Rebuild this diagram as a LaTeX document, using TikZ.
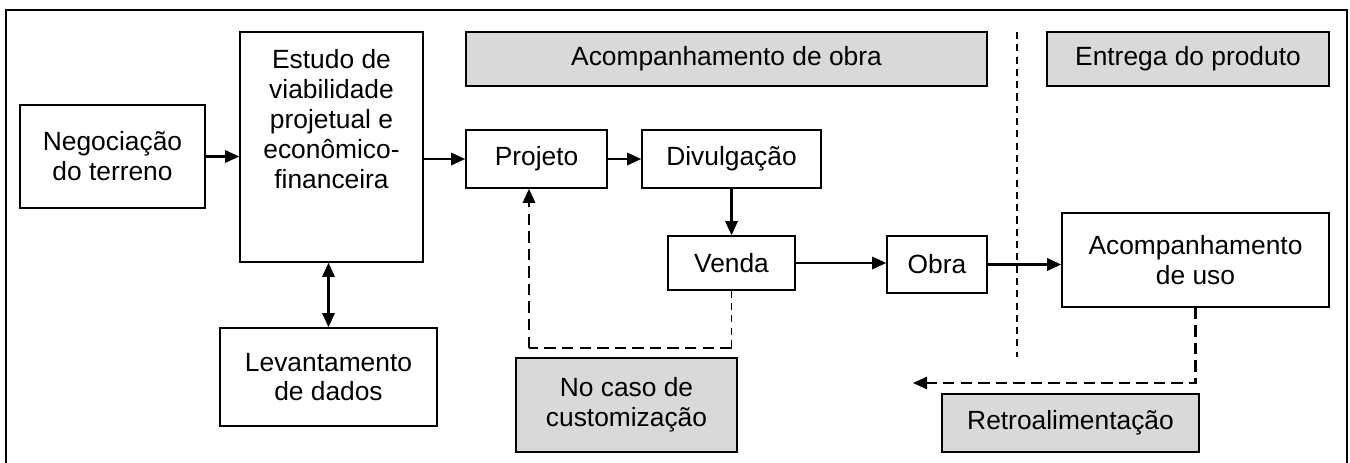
\documentclass[tikz,border=0pt]{standalone}
\usepackage{fontspec}
\setmainfont{Liberation Sans}
\usetikzlibrary{arrows.meta}

\begin{document}
\begin{tikzpicture}[x=0.02cm, y=-0.02cm,
  box/.style={draw, line width=0.9pt, inner sep=0pt, align=center, font=\fontsize{15}{17}\selectfont},
  gbox/.style={box, fill=gray!30},
  arr/.style={line width=1.3pt, -{Triangle[length=8pt,width=7pt]}},
  dsh/.style={line width=1.2pt, dash pattern=on 6.5pt off 3.5pt},
  thindsh/.style={line width=0.8pt, dash pattern=on 4pt off 3pt}]
\useasboundingbox (0,0) rectangle (1350,463);
\draw[line width=0.9pt] (6,463) -- (6,10) -- (1347,10) -- (1347,463);

\node[gbox, minimum width=10.42cm, minimum height=1.08cm] (hobra) at (726.5,59) {Acompanhamento de obra};
\node[gbox, minimum width=5.64cm, minimum height=1.08cm] (entrega) at (1188,59) {Entrega do produto};

\node[box, minimum width=3.70cm, minimum height=2.06cm] (neg) at (112.5,156.5) {Negociação\\do terreno};
\node[box, minimum width=3.66cm, minimum height=4.60cm] (est) at (331.5,147) {Estudo de\\viabilidade\\projetual e\\econômico-\\financeira\rule[-1.12cm]{0pt}{1.12cm}};
\node[box, minimum width=4.34cm, minimum height=1.96cm] (lev) at (328.5,377) {Levantamento\\de dados};
\path[draw,arr] (neg.east) -- (neg.east -| est.west);
\path[draw,line width=1.3pt,{Triangle[length=8pt,width=7pt]}-{Triangle[length=8pt,width=7pt]}] (lev.north |- est.south) -- (lev.north);

\node[box, minimum width=2.82cm, minimum height=1.16cm] (proj) at (536.5,159) {Projeto};
\node[box, minimum width=3.58cm, minimum height=1.16cm] (div) at (731.5,159) {Divulgação};
\node[box, minimum width=2.54cm, minimum height=1.08cm] (venda) at (731.5,263) {Venda};
\node[box, minimum width=2.00cm, minimum height=1.14cm] (obra) at (937,264.5) {Obra};
\node[box, minimum width=5.34cm, minimum height=1.88cm] (acomp) at (1195.5,260) {Acompanhamento\\de uso};
\path[draw,arr] (proj.west -| est.east) -- (proj.west);
\path[draw,arr] (proj) -- (div);
\path[draw,arr] (div) -- (venda);
\path[draw,arr] (venda.east) -- (venda.east -| obra.west);
\path[draw,arr] (obra.east) -- (obra.east -| acomp.west);

% customizacao
\node[gbox, minimum width=4.42cm, minimum height=1.88cm] (custom) at (626.5,405) {No caso de\\customização};
\coordinate (k1) at (731.5,348);
\coordinate (k2) at (529,348);
\path[draw,thindsh] (venda.south) -- (k1);
\path[draw,dsh] (k1) -- (k2);
\path[draw,dsh,-{Triangle[length=8pt,width=7pt]}] (k2) -- (k2 |- proj.south);

% retroalimentacao
\node[gbox, minimum width=5.14cm, minimum height=1.16cm] (retro) at (1070.5,423) {Retroalimentação};
\coordinate (r1) at (913,383);
\path[draw,dsh,-{Triangle[length=8pt,width=7pt]}] (acomp.south) |- (r1);

% divisao
\coordinate (d1) at (1017,32);
\coordinate (d2) at (1017,357);
\path[draw,thindsh] (d1) -- (d2);
\end{tikzpicture}
\end{document}
